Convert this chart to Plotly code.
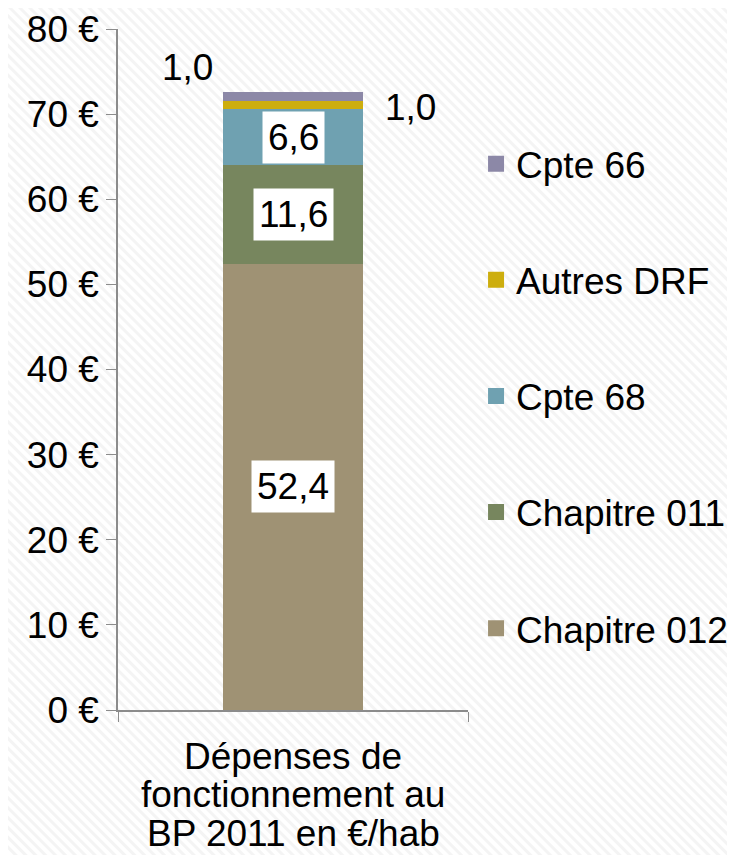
import base64
import plotly.graph_objects as go

# Data
category = ["Dépenses de fonctionnement au BP 2011 en €/hab"]
category_lines = ["Dépenses de", "fonctionnement au", "BP 2011 en €/hab"]
series = ["Chapitre 012", "Chapitre 011", "Cpte 68", "Autres DRF", "Cpte 66"]
values = [52.4, 11.6, 6.6, 1.0, 1.0]
labels = ["52,4", "11,6", "6,6", "1,0", "1,0"]
colors = ["#9F9274", "#77865E", "#6FA1B1", "#CDAE0E", "#8C88A7"]
y_ticks = [0, 10, 20, 30, 40, 50, 60, 70, 80]
y_ticktext = [f"{v} €" for v in y_ticks]

FONT = "Liberation Sans, Arial, sans-serif"
FS = 37
AXIS = "#8C8C8C"
# page body has an 8px margin, so the figure fills what is left of the window
W, H = 727, 847
L, R, T, B = 110, 267, 21, 145
PW, PH = W - L - R, H - T - B

fig = go.Figure()

# legend entries first (top to bottom: Cpte 66 ... Chapitre 012)
for name, col in reversed(list(zip(series, colors))):
    fig.add_trace(go.Scatter(
        x=[None], y=[None], mode="markers", name=name, legendgroup=name,
        marker=dict(symbol="square", size=16, color=col), showlegend=True,
    ))

for name, val, col in zip(series, values, colors):
    fig.add_trace(go.Bar(
        x=category, y=[val], name=name, marker=dict(color=col, line=dict(width=0)),
        width=0.4, legendgroup=name, showlegend=False,
        hovertemplate=f"{name}: %{{y:.1f}}<extra></extra>",
    ))

# data labels
annotations = []
base = 0.0
for i, (val, lab) in enumerate(zip(values, labels)):
    mid = base + val / 2
    base += val
    a = dict(x=category[0], y=mid, text=lab, showarrow=False,
             font=dict(size=FS, color="black", family=FONT))
    if i < 3:
        a.update(bgcolor="white", borderpad=5)
    elif i == 3:
        a.update(xshift=117, yshift=-3)
    else:
        a.update(xshift=-106, yshift=29)
    annotations.append(a)

# category label, three tight lines under the axis
for k, line in enumerate(category_lines):
    annotations.append(dict(x=category[0], y=0, yref="paper", text=line, showarrow=False,
                            yanchor="middle", yshift=-46 - 38.5 * k,
                            font=dict(size=FS, color="black", family=FONT)))

# faint diagonal hatch background
svg = (
    f'<svg xmlns="http://www.w3.org/2000/svg" width="{W}" height="{H}">'
    '<defs><pattern id="p" width="7" height="7" patternUnits="userSpaceOnUse" '
    'patternTransform="rotate(-45)"><rect width="7" height="7" fill="white"/>'
    '<rect width="3" height="7" fill="#F4F4F4"/></pattern></defs>'
    f'<rect width="{W}" height="{H}" fill="url(#p)"/></svg>'
)
bg = "data:image/svg+xml;base64," + base64.b64encode(svg.encode()).decode()

fig.update_layout(
    width=W, height=H,
    barmode="stack",
    paper_bgcolor="white", plot_bgcolor="rgba(0,0,0,0)",
    margin=dict(l=L, r=R, t=T, b=B, autoexpand=False),
    font=dict(family=FONT, size=FS, color="black"),
    showlegend=True,
    legend=dict(
        x=1.023, xanchor="left", y=0.847, yanchor="top",
        traceorder="grouped", tracegroupgap=65,
        font=dict(size=FS, family=FONT), bgcolor="rgba(0,0,0,0)",
        itemwidth=30,
    ),
    annotations=annotations,
    images=[dict(source=bg, xref="paper", yref="paper",
                 x=-L / PW, y=1 + T / PH, sizex=W / PW, sizey=H / PH,
                 xanchor="left", yanchor="top", sizing="stretch", layer="below")],
    xaxis=dict(
        type="category",
        showline=True, linecolor=AXIS, linewidth=1.5, automargin=False,
        ticks="outside", tickson="boundaries", ticklen=10, tickcolor=AXIS,
        showticklabels=False, showgrid=False,
    ),
    yaxis=dict(
        range=[0, 80], tickvals=y_ticks, ticktext=y_ticktext, automargin=False,
        showline=True, linecolor=AXIS, linewidth=1.5,
        ticks="outside", ticklen=10, tickcolor=AXIS,
        tickfont=dict(size=FS), showgrid=False, zeroline=False,
    ),
)

fig.write_html("out.html")
